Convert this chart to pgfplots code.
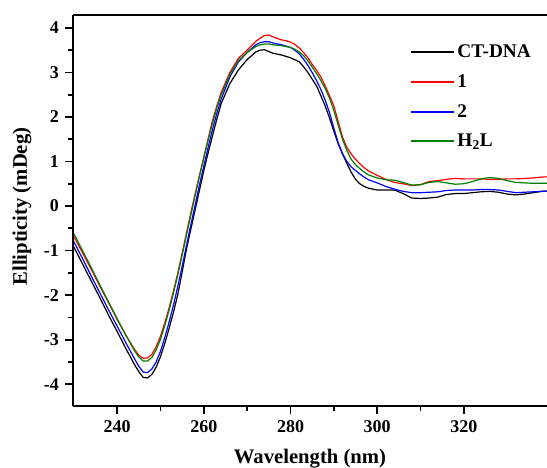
\documentclass[border=0pt]{standalone}
\usepackage{fontspec}
\setmainfont{Liberation Serif}
\usepackage{pgfplots}
\pgfplotsset{compat=1.18}
\usepackage{pgfplotstable}

% CD spectra, wavelength (nm) vs ellipticity (mDeg)
\pgfplotstableread{
x y
230 -0.92
232 -1.30
234 -1.68
236 -2.06
238 -2.45
240 -2.82
242 -3.20
244 -3.56
245 -3.72
246 -3.85
247 -3.86
248 -3.78
249 -3.62
250 -3.38
251 -3.08
252 -2.74
253 -2.38
254 -1.98
255 -1.48
256 -0.96
257 -0.52
258 -0.08
259 0.36
260 0.80
261 1.20
262 1.58
263 1.95
264 2.30
266 2.75
268 3.06
270 3.29
272 3.46
273 3.50
274 3.51
275 3.47
276 3.43
278 3.39
280 3.33
282 3.24
283 3.13
284 3.00
285 2.85
286 2.70
287 2.48
288 2.25
289 1.98
290 1.68
291 1.40
292 1.17
293 0.96
294 0.76
295 0.60
296 0.50
297 0.44
298 0.40
300 0.36
302 0.36
304 0.36
306 0.28
308 0.18
310 0.17
312 0.18
314 0.20
316 0.26
318 0.28
320 0.28
322 0.30
324 0.32
326 0.33
328 0.31
330 0.27
332 0.25
334 0.27
336 0.30
338 0.33
340 0.34
}\ctdna

\pgfplotstableread{
x y
230 -0.68
232 -1.05
234 -1.42
236 -1.80
238 -2.17
240 -2.55
242 -2.90
244 -3.22
245 -3.35
246 -3.42
247 -3.41
248 -3.33
249 -3.16
250 -2.92
251 -2.62
252 -2.28
253 -1.90
254 -1.50
255 -1.05
256 -0.60
257 -0.15
258 0.28
259 0.70
260 1.10
261 1.52
262 1.92
263 2.25
264 2.55
266 3.00
268 3.32
270 3.50
272 3.70
273 3.77
274 3.83
275 3.84
276 3.80
277 3.76
278 3.73
279 3.71
280 3.68
281 3.63
282 3.55
283 3.45
284 3.33
285 3.18
286 3.05
287 2.90
288 2.70
289 2.48
290 2.25
291 1.90
292 1.55
293 1.32
294 1.17
295 1.05
296 0.95
297 0.86
298 0.79
299 0.74
300 0.69
302 0.60
304 0.53
306 0.50
308 0.46
310 0.48
312 0.55
314 0.57
316 0.60
318 0.62
320 0.61
322 0.61
324 0.61
326 0.60
328 0.60
330 0.61
332 0.61
334 0.62
336 0.63
338 0.65
340 0.66
}\one

\pgfplotstableread{
x y
230 -0.80
232 -1.18
234 -1.57
236 -1.95
238 -2.33
240 -2.70
242 -3.07
244 -3.43
245 -3.60
246 -3.73
247 -3.74
248 -3.66
249 -3.50
250 -3.26
251 -2.95
252 -2.60
253 -2.22
254 -1.80
255 -1.35
256 -0.88
257 -0.42
258 0.03
259 0.48
260 0.90
261 1.32
262 1.72
263 2.08
264 2.40
266 2.90
268 3.24
270 3.45
272 3.62
273 3.67
274 3.69
275 3.69
276 3.66
278 3.62
280 3.56
281 3.50
282 3.42
283 3.30
284 3.16
285 3.00
286 2.82
287 2.62
288 2.38
289 2.10
290 1.75
291 1.42
292 1.18
293 1.00
294 0.88
295 0.80
296 0.72
297 0.65
298 0.59
300 0.52
302 0.44
304 0.38
306 0.33
308 0.30
310 0.30
312 0.31
314 0.32
316 0.35
318 0.36
320 0.36
322 0.36
324 0.37
326 0.37
328 0.36
330 0.33
332 0.30
334 0.31
336 0.32
338 0.33
340 0.34
}\two

\pgfplotstableread{
x y
230 -0.62
232 -1.00
234 -1.38
236 -1.77
238 -2.15
240 -2.53
242 -2.90
244 -3.25
245 -3.39
246 -3.48
247 -3.48
248 -3.40
249 -3.23
250 -2.99
251 -2.68
252 -2.33
253 -1.95
254 -1.54
255 -1.10
256 -0.65
257 -0.20
258 0.24
259 0.67
260 1.08
261 1.48
262 1.86
263 2.20
264 2.50
266 2.95
268 3.27
270 3.45
272 3.58
273 3.62
274 3.64
275 3.64
276 3.62
278 3.60
280 3.56
281 3.52
282 3.46
283 3.38
284 3.26
285 3.12
286 2.98
287 2.82
288 2.64
289 2.42
290 2.15
291 1.82
292 1.50
293 1.25
294 1.05
295 0.93
296 0.84
297 0.76
298 0.70
300 0.63
302 0.59
304 0.58
306 0.53
308 0.47
310 0.48
312 0.53
314 0.55
316 0.52
318 0.49
320 0.50
322 0.55
324 0.61
326 0.64
328 0.62
330 0.57
332 0.53
334 0.52
336 0.51
338 0.51
340 0.51
}\htwol

\definecolor{cdgreen}{RGB}{0,128,0}

\begin{document}
\begin{tikzpicture}
    \path[use as bounding box] (-54.75pt,-46.5pt) rectangle (355.5pt,304.5pt);
    \begin{axis}[
            at={(0,0)}, anchor=south west,
            scale only axis,
            width=355.5pt,
            height=293.25pt,
            xmin=229.8, xmax=339.2,
            ymin=-4.49, ymax=4.29,
            axis x line=box,
            axis y line=left,
            axis line style={-, line width=1.6pt},
            xtick={240,260,...,320},
            ytick={-4,-3,...,4},
            minor x tick num=1,
            minor y tick num=1,
            xtick pos=bottom,
            tick align=outside,
            major tick length=6pt,
            minor tick length=3.8pt,
            every tick/.style={black, line width=1.3pt},
            /pgf/number format/assume math mode=true,
            ticklabel style={font=\fontsize{13.5}{15}\selectfont\bfseries},
            xticklabel style={yshift=-1pt},
            yticklabel style={xshift=-1pt},
            xlabel={Wavelength (nm)},
            ylabel={Ellipticity (mDeg)},
            label style={font=\fontsize{15.5}{18}\selectfont\bfseries},
            xlabel style={at={(axis description cs:0.5,0)}, anchor=base, yshift=-43.5pt},
            ylabel style={at={(axis description cs:-0.1076,0.51)}, anchor=center},
            legend style={draw=none, fill=none, at={(rel axis cs:0.711,0.932)},
                    anchor=north west, font=\fontsize{14.5}{16}\selectfont\bfseries,
                    row sep=7.3pt, inner sep=0pt,
                    cells={anchor=west}},
            legend image code/.code={\draw[#1, line width=1.4pt] (0pt,0pt) -- (32pt,0pt);},
            every axis plot/.append style={line width=0.9pt},
        ]
        \addplot[black] table[x=x,y=y] {\ctdna};
        \addplot[red] table[x=x,y=y] {\one};
        \addplot[blue] table[x=x,y=y] {\two};
        \addplot[cdgreen] table[x=x,y=y] {\htwol};
        \legend{CT-DNA, 1, 2, H\textsubscript{2}L}
    \end{axis}
\end{tikzpicture}
\end{document}
